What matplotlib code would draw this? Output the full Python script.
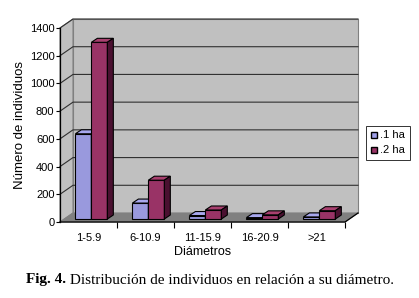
import numpy as np
import matplotlib.pyplot as plt
from matplotlib.patches import Polygon, Rectangle

# data
categories = ['1-5.9', '6-10.9', '11-15.9', '16-20.9', '>21']
ha1 = [615, 115, 25, 10, 15]
ha2 = [1275, 280, 65, 30, 60]
yticks = [0, 200, 400, 600, 800, 1000, 1200, 1400]

plt.rcParams['font.family'] = ['Liberation Sans', 'DejaVu Sans']

W, H = 419, 298
fig = plt.figure(figsize=(W / 100, H / 100), dpi=100)
# front plane of the plot in pixels: x 60..345, y 28..222 (from top)
ax = fig.add_axes([60 / W, 1 - 222 / H, 285 / W, 194 / H])
ax.set_xlim(0, len(categories))
ax.set_ylim(0, 1400)
ax.set_facecolor('none')
for s in ax.spines.values():
    s.set_visible(False)

# pixel -> data helpers
px_x = len(categories) / 285.0
px_y = 1400 / 194.0


def d(px, py):
    return px * px_x, py * px_y


wx, wy = d(13, 9)  # depth of the chart box
xmax = len(categories)

# back wall
ax.add_patch(Polygon([(wx, wy), (xmax + wx, wy), (xmax + wx, 1400 + wy), (wx, 1400 + wy)],
                     closed=True, facecolor='#c0c0c0', edgecolor='#808080', lw=0.8,
                     clip_on=False, zorder=1))
# left wall
ax.add_patch(Polygon([(0, 0), (wx, wy), (wx, 1400 + wy), (0, 1400)],
                     closed=True, facecolor='#c0c0c0', edgecolor='#808080', lw=0.8,
                     clip_on=False, zorder=1))
# floor
ax.add_patch(Polygon([(0, 0), (xmax, 0), (xmax + wx, wy), (wx, wy)],
                     closed=True, facecolor='#808080', edgecolor='#808080', lw=0.8,
                     clip_on=False, zorder=1))
# gridlines on walls
for t in yticks[1:]:
    ax.plot([0, wx, xmax + wx], [t, t + wy, t + wy], color='#303030', lw=0.8,
            clip_on=False, zorder=2)

# axes lines
ax.plot([0, 0], [0, 1400], color='black', lw=0.9, clip_on=False, zorder=3)
ax.plot([0, xmax, xmax + wx], [0, 0, wy], color='black', lw=0.9, clip_on=False, zorder=3)

# bars
bx, by = d(4, 3)    # bars sit a bit behind the front plane
dx, dy = d(6, 4)    # bar depth
bw = 0.28
colors = [('#9999dd', '#a8a8ee', '#3a3a66'), ('#993366', '#a8406f', '#4a1030')]
z = 4
for i in range(len(categories)):
    for j, vals in enumerate([ha1, ha2]):
        h = vals[i]
        x0 = i + 0.2 + j * bw + bx
        x1 = x0 + bw
        y0 = by
        front, top, side = colors[j]
        ax.add_patch(Rectangle((x0, y0), bw, h, facecolor=front, edgecolor='black',
                               lw=0.8, clip_on=False, zorder=z))
        ax.add_patch(Polygon([(x0, y0 + h), (x1, y0 + h), (x1 + dx, y0 + h + dy), (x0 + dx, y0 + h + dy)],
                             closed=True, facecolor=top, edgecolor='black', lw=0.8,
                             clip_on=False, zorder=z))
        ax.add_patch(Polygon([(x1, y0), (x1, y0 + h), (x1 + dx, y0 + h + dy), (x1 + dx, y0 + dy)],
                             closed=True, facecolor=side, edgecolor='black', lw=0.8,
                             clip_on=False, zorder=z))
        z += 1

ax.set_yticks(yticks)
ax.set_yticklabels([str(t) for t in yticks], fontsize=8)
ax.set_xticks(np.arange(len(categories)) + 0.5)
ax.set_xticklabels(categories, fontsize=8)
ax.tick_params(axis='x', length=0, pad=8)
ax.tick_params(axis='y', length=3, width=0.8, pad=1)
# small ticks at category boundaries
ax.set_xticks(np.arange(1, len(categories) + 1), minor=True)
ax.tick_params(axis='x', which='minor', length=4, width=0.8)

ax.set_ylabel('Número de individuos', fontsize=9.5, labelpad=3)
ax.set_xlabel('Diámetros', fontsize=9, labelpad=2)

# legend
h1 = plt.Line2D([0], [0], marker='s', color='w', markerfacecolor='#a0a0e8',
                markeredgecolor='black', markersize=5, label='.1 ha')
h2 = plt.Line2D([0], [0], marker='s', color='w', markerfacecolor='#993366',
                markeredgecolor='black', markersize=5, label='.2 ha')
leg = fig.legend(handles=[h1, h2], loc='center left', bbox_to_anchor=(366 / W, 1 - 143 / H),
                 fontsize=8, frameon=True, fancybox=False, handlelength=0.6,
                 handletextpad=0.3, borderpad=0.4, labelspacing=0.45, borderaxespad=0)
leg.get_frame().set_edgecolor('black')
leg.get_frame().set_linewidth(0.7)

# caption: bold "Fig. 4." followed by regular text, centered as a whole
serif = ['Liberation Serif', 'DejaVu Serif']
cy = 1 - 280 / H
t1 = fig.text(0, cy, 'Fig. 4.', ha='left', va='center', fontsize=11,
              fontweight='bold', family=serif)
t2 = fig.text(0, cy, ' Distribución de individuos en relación a su diámetro.',
              ha='left', va='center', fontsize=11, family=serif)
r = fig.canvas.get_renderer()
w1 = t1.get_window_extent(r).width
w2 = t2.get_window_extent(r).width
start = (W - (w1 + w2)) / 2
t1.set_x(start / W)
t2.set_x((start + w1) / W)

fig.savefig('out.png', dpi=100)
